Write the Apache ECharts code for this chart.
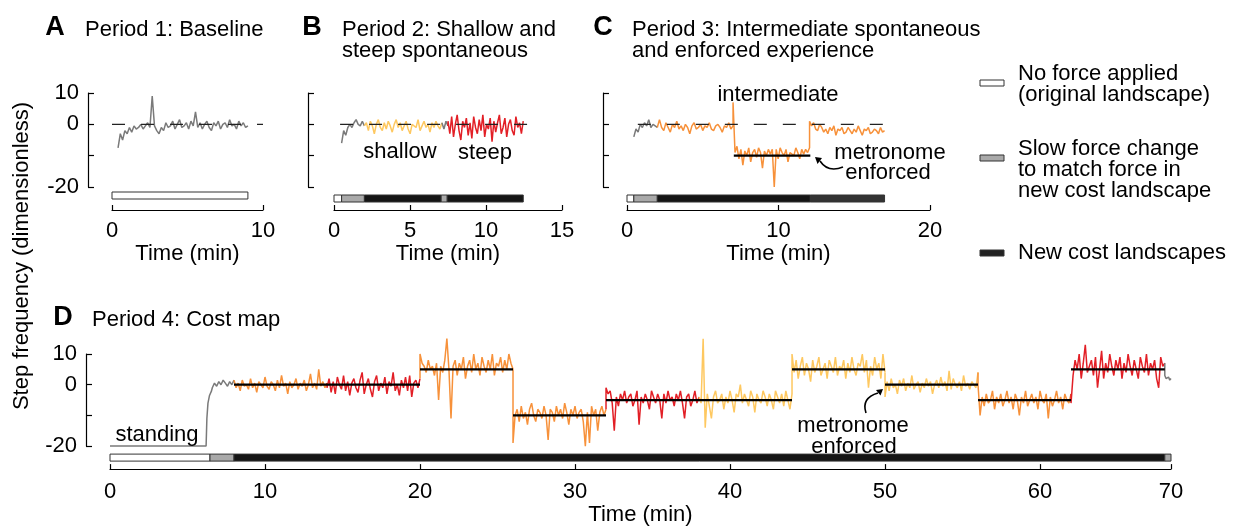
<!DOCTYPE html>
<html>
<head>
<meta charset="utf-8">
<script src="https://cdn.jsdelivr.net/npm/echarts@6/dist/echarts.min.js"></script>
<style>
html,body{margin:0;padding:0;background:#fff}
#chart{width:1233px;height:527px}
</style>
</head>
<body>
<div id="chart"></div>
<script>
// ---- data (step frequency, dimensionless; time in min) ----
// Period 1
var traceA = [-7.5,-3,-5,-2,-3,-1,-2.5,-0.5,-1.5,-1,0,-1.5,-0.5,0.5,-1,9,-0.5,-2,-3,-1,-2,0.5,-1,-0.5,1,-1.5,0,1.5,-1,-0.5,0.5,-1.5,1,-0.5,4,-1,0.5,-1.5,0,1,-1,-2,0.5,-0.5,1,-1.5,0,0.5,-1,1.5,-0.5,0,-1.5,1,-0.5,0.5,-1,-0.5];
// Period 2
var grayB1 = [-6,-2,-3.5,-1,0,-1,0.5,1.5,0,-0.5,1,-0.5];
var shallowB = [-1,0.5,-2,1,-0.5,-3,0,1.5,-1,-2,0.5,-1.5,1,-0.5,-2.5,0,1.5,-1,0.5,-2,-0.5,1,-1.5,-3,0,0.5,-1,1.5,-2,-0.5,1,-1,0,-2.5,0.5,-1,1,-0.5,-1.5,0.5];
var grayB2 = [0,-1.5,1,-0.5];
var steepB = [1,-3,2.5,-4,0,3,-2,-5,1,-1,2,-3.5,0.5,-4.5,2.5,-1,-3,1.5,-2,3,-4,0,-1.5,2,-5.5,1,-2.5,0.5,3,-3,-1,2,-4,0,1.5,-2,-3.5,2.5,-1,0.5,-3,1];
// Period 3
var grayC = [-4,-1.5,-2.5,0,-1,0.5,-0.5,1.5,-1,0,-0.5,-1];
var interC1 = [-0.5,1.5,-1,-2,0.5,-1,-2.5,0,-1,1,-1.5,-0.5,-2,0,-1,-3,-0.5,0.5,-1.5,-1,0,-2,-0.5,-1,0.5,-1.5,-2,-0.5,0,-1,-2.5,-0.5,-1,0.5,-1.5,-0.5];
var interC2 = [7,-9,-7,-11,-8,-13,-8.5,-10,-7.5,-12,-9,-8,-10.5,-7.5,-9,-14,-8.5,-10,-8,-9.5,-8,-20,-8,-11,-7.5,-9,-10,-8,-12,-9,-8.5,-10,-7.5,-9,-11,-8,-9.5,-8,-9,-7.5];
var interC3 = [1,-0.5,0.5,-1.5,-2,0,-1,-2.5,-1.5,-3,-1,-2,-0.5,-3.5,-1.5,-2,-1,-3,-2.5,-1,-2,-3,-1.5,-2.5,-0.5,-2,-3.5,-1.5,-2,-1,-3,-2.5,-1.5,-2,-3,-1,-2.5,-2];
var metroC = [[7.05, 12.1, -10]];
// Period 4
var standingD = [[0,-20],[6.2,-20],[6.25,-11],[6.32,-6],[6.42,-3.5],[6.55,-2]];
var grayD1 = [-1,0.5,-0.5,1,0,1.5,0.5,-0.5,1,0,1.5];
var orangeD1 = [1,-1,0.5,-2,1.5,-0.5,0,-1.5,2,-1,0.5,-2.5,1,0,-1,2.5,-0.5,-1.5,1,0,-2,1.5,-1,3,-0.5,0.5,-3,1,-1,0,2,-1.5,0.5,-0.5,1.5,-2,0,3.5,-1,0.5,-1.5,5,-0.5,1,-1,0.5];
var redD1 = [-1,2,-2.5,1,-3,2.5,0,-1.5,3,-2,1,-3.5,0.5,2,-1,-2.5,1.5,4,-3,0,2,-1.5,-4,1,3,-2,0.5,-1,2.5,-3,1,-0.5,4,-2,0,-3.5,1.5,-1,2.5,-2,3,-4,0.5,1.5,-1,2];
var orangeD2 = [10,7,6,4,8,5,6,3,7,-5,6,4,8,15,5,-11,6,8,3,7,5,9,2,6,8,4,10,5,7,3,9,6,4,8,5,10,3,7,6,9,4,8,5,10,7,5];
var orangeD3 = [-19,-10,-8,-12,-7,-11,-9,-13,-8,-6,-10,-12,-8,-9,-11,-7,-10,-18,-8,-9,-12,-7,-10,-8,-11,-6,-9,-13,-8,-10,-7,-11,-9,-8,-12,-20,-9,-19,-7,-10,-8,-15,-9,-7,-10,-8];
var redD2 = [-1,-3,-2,-6,-15,-4,-7,-3,-5,-2,-6,-4,-3,-7,-5,-2,-13,-4,-6,-3,-5,-8,-2,-4,-6,-3,-5,-11,-3,-6,-2,-5,-4,-7,-3,-5,-2,-6,-11,-4,-3,-7,-5,-2,-6,-4];
var yellowD1 = [-4,-6,15,-14,-3,-7,-11,-4,-2,-6,-5,-3,-8,-4,-6,-2,-5,-9,-3,-4,0,-6,-3,-5,-7,-2,-4,-9,-3,-5,-6,-2,-4,-7,-3,-5,-8,-2,-4,-6,-3,-7,-2,-5,-8,-3];
var yellowD2 = [10,4,8,2,6,9,3,7,5,1,8,4,6,9,3,5,7,2,8,6,4,9,3,6,5,8,2,7,4,9,5,3,7,6,10,4,8,-1,6,3,9,5,7,2,10,4];
var yellowD3 = [-4,1,-2,2,-1,0,-3,1.5,-0.5,2,-2,0.5,-1,3,-1.5,0,1,-2.5,0.5,-1,2,-0.5,1,-3,0,1.5,-1,2.5,-0.5,1,-2,4.5,-1.5,2,0,-1,1,-2,3,-0.5,0.5,-1.5,1,0,-1,4];
var orangeD4 = [0,-10,-4,-7,-3,-6,-5,-2,-8,-4,-6,-3,-7,-5,-2,-6,-4,-8,-3,-5,-10,-4,-6,-2,-7,-5,-3,-6,-4,-8,-2,-5,-6,-3,-11,-4,-7,-5,-2,-6,-4,-8,-3,-5,-6,-3];
var redD3 = [-6,3,8,5,10,2,7,13,4,6,8,3,9,-1,5,11,2,7,4,10,6,3,8,5,9,2,7,4,10,6,3,8,5,2,9,6,4,10,3,7,5,8,2,-1,9,6,7];
var grayD2 = [3,2,1.5,2.5,1.5,2];
var levelD = [[8,20,0],[20,26,5],[26,32,-10],[32,44,-5],[44,50,5],[50,56,0],[56,62,-5],[62,68.05,5]];
// force condition bars: [start, end, kind] kind 0=no force, 1=slow change, 2=new landscape, 3=new landscape (later)
var barsA = [[0,9.0,0]];
var barsB = [[0,0.5,0],[0.5,2,1],[2,7.05,2],[7.05,7.45,1],[7.45,12.45,2]];
var barsC = [[0,0.45,0],[0.45,2,1],[2,12.1,2],[12.1,17,3]];
var barsD = [[0,6.45,0],[6.45,8,1],[8,68.05,2],[68.05,68.45,1]];
var zeroA = [0,10], zeroB = [0.4,13.4], zeroC = [-1.2,17.4];

// ---- styling ----
var FONT = "'Liberation Sans', Arial, Helvetica, sans-serif";
var FS = 22;
var GRAY='#7a7a7a', ORANGE='#f7913a', YELLOW='#fec860', RED='#e21f26';
var BAR_FILL = ['#ffffff','#a9a9a9','#151515','#333333'];

function seg(t0, t1, vals){
  return vals.map(function(v,i){ return [t0 + (t1-t0)*i/(vals.length-1), v]; });
}

function traces(ax, parts){
  var out = [], prev = null;
  parts.forEach(function(p){
    var d = prev ? [prev].concat(p.data) : p.data.slice();
    out.push({type:'line', xAxisIndex:ax, yAxisIndex:ax, data:d, symbol:'none', clip:false, silent:true, z:2,
      lineStyle:{color:p.color, width:1.5}});
    prev = p.data[p.data.length-1];
  });
  return out;
}

function zeroLine(ax, r){
  return {type:'line', xAxisIndex:ax, yAxisIndex:ax, data:[[r[0],0],[r[1],0]], symbol:'none', clip:false, silent:true, z:4,
    lineStyle:{color:'#222', width:1.3, type:[13,16]}};
}

function levelLines(ax, lv){
  return {type:'custom', xAxisIndex:ax, yAxisIndex:ax, data:lv, clip:false, silent:true, z:5, encode:{x:[0,1], y:2},
    renderItem:function(params, api){
      var a = api.coord([api.value(0), api.value(2)]);
      var b = api.coord([api.value(1), api.value(2)]);
      return {type:'line', shape:{x1:a[0], y1:a[1], x2:b[0], y2:b[1]}, style:{stroke:'#000', lineWidth:2.2}};
    }};
}

function bars(ax, segs, drop){
  return {type:'custom', xAxisIndex:ax, yAxisIndex:ax, data:segs, clip:false, silent:true, z:3, encode:{x:[0,1]},
    renderItem:function(params, api){
      var a = api.coord([api.value(0), -20]);
      var b = api.coord([api.value(1), -20]);
      return {type:'rect', shape:{x:a[0], y:a[1]+drop, width:b[0]-a[0], height:7},
        style:{fill:BAR_FILL[api.value(2)], stroke:'#333', lineWidth:1}};
    }};
}

function xAx(grid, max, interval, gap, margin, fmt){
  return {gridIndex:grid, type:'value', min:0, max:max, interval:interval, offset:23,
    axisLine:{onZero:false, lineStyle:{color:'#000', width:1.2}},
    axisTick:{inside:true, length:5, lineStyle:{color:'#000', width:1.2}},
    axisLabel:{margin:margin, color:'#000', fontSize:FS, fontFamily:FONT, formatter:fmt},
    splitLine:{show:false},
    name:'Time (min)', nameLocation:'middle', nameGap:gap,
    nameTextStyle:{color:'#000', fontSize:FS, fontFamily:FONT}};
}

function yAx(grid, showLabels, offset){
  return {gridIndex:grid, type:'value', min:-20, max:10, interval:10, offset:offset,
    axisLine:{show:true, onZero:false, lineStyle:{color:'#000', width:1.2}},
    axisTick:{show:true, inside:true, length:6, lineStyle:{color:'#000', width:1.2}},
    axisLabel:{show:showLabels, margin:9, color:'#000', fontSize:FS, fontFamily:FONT,
      formatter:function(v){ return v === -10 ? '' : String(v); }},
    splitLine:{show:false}};
}

var series = [];
// A
series = series.concat(traces(0, [{data:seg(0.4, 9.0, traceA), color:GRAY}]));
series.push(zeroLine(0, zeroA), bars(0, barsA, 5));
// B
series = series.concat(traces(1, [
  {data:seg(0.5, 2.0, grayB1), color:GRAY},
  {data:seg(2.0, 7.1, shallowB), color:YELLOW},
  {data:seg(7.1, 7.5, grayB2), color:GRAY},
  {data:seg(7.5, 12.45, steepB), color:RED}
]));
series.push(zeroLine(1, zeroB), bars(1, barsB, 8));
// C
series = series.concat(traces(2, [
  {data:seg(0.45, 2.0, grayC), color:GRAY},
  {data:seg(2.0, 7.0, interC1).concat(seg(7.0, 12.05, interC2), seg(12.05, 17.0, interC3)), color:ORANGE}
]));
series.push(zeroLine(2, zeroC), levelLines(2, metroC), bars(2, barsC, 8));
// D
series = series.concat(traces(3, [
  {data:standingD.concat(seg(6.6, 8.0, grayD1)), color:GRAY},
  {data:seg(8, 14, orangeD1), color:ORANGE},
  {data:seg(14, 20, redD1), color:RED},
  {data:seg(20, 26, orangeD2), color:ORANGE},
  {data:seg(26, 32, orangeD3), color:ORANGE},
  {data:seg(32, 38, redD2), color:RED},
  {data:seg(38, 44, yellowD1), color:YELLOW},
  {data:seg(44, 50, yellowD2), color:YELLOW},
  {data:seg(50, 56, yellowD3), color:YELLOW},
  {data:seg(56, 62, orangeD4), color:ORANGE},
  {data:seg(62, 68.05, redD3), color:RED},
  {data:seg(68.05, 68.45, grayD2), color:GRAY}
]));
series.push(levelLines(3, levelD), bars(3, barsD, 8));

function txt(t, x, y, opt){
  opt = opt || {};
  return {type:'text', x:x, y:y, rotation:opt.rot || 0, silent:true, z:10,
    style:{text:t, fill:'#000', fontFamily:FONT, fontSize:opt.size || FS, fontWeight:opt.bold ? 'bold' : 'normal',
      align:opt.align || 'left', verticalAlign:'middle'}};
}
function legendBox(y, fill){
  return {type:'rect', silent:true, shape:{x:980, y:y, width:24, height:6}, style:{fill:fill, stroke:'#333', lineWidth:1}};
}

var graphic = [
  txt('A', 55, 28, {bold:true, size:27, align:'center'}),
  txt('Period 1: Baseline', 85, 30),
  txt('B', 312, 28, {bold:true, size:27, align:'center'}),
  txt('Period 2: Shallow and', 342, 30),
  txt('steep spontaneous', 342, 51),
  txt('C', 603, 28, {bold:true, size:27, align:'center'}),
  txt('Period 3: Intermediate spontaneous', 632, 30),
  txt('and enforced experience', 632, 51),
  txt('D', 63, 318, {bold:true, size:27, align:'center'}),
  txt('Period 4: Cost map', 92, 320),
  txt('Step frequency (dimensionless)', 22, 256, {rot:Math.PI/2, align:'center'}),
  txt('shallow', 400, 152, {align:'center'}),
  txt('steep', 485, 153, {align:'center'}),
  txt('intermediate', 778, 95, {align:'center'}),
  txt('metronome', 890, 153, {align:'center'}),
  txt('enforced', 888, 173, {align:'center'}),
  txt('standing', 157, 435, {align:'center'}),
  txt('metronome', 853, 426, {align:'center'}),
  txt('enforced', 854, 447, {align:'center'}),
  // legend
  legendBox(80, BAR_FILL[0]),
  legendBox(155, BAR_FILL[1]),
  legendBox(250, '#222'),
  txt('No force applied', 1018, 74),
  txt('(original landscape)', 1018, 95),
  txt('Slow force change', 1018, 149),
  txt('to match force in', 1018, 170),
  txt('new cost landscape', 1018, 191),
  txt('New cost landscapes', 1018, 253),
  // arrows
  {type:'bezierCurve', silent:true, shape:{x1:843, y1:167, cpx1:828, cpy1:173, x2:820, y2:161}, style:{stroke:'#000', lineWidth:1.6, fill:null}},
  {type:'polygon', silent:true, shape:{points:[[815,157],[822,158],[817.5,164]]}, style:{fill:'#000'}},
  {type:'bezierCurve', silent:true, shape:{x1:866, y1:413, cpx1:861, cpy1:398, x2:878, y2:393}, style:{stroke:'#000', lineWidth:1.6, fill:null}},
  {type:'polygon', silent:true, shape:{points:[[883,389],[880.5,395.5],[876,390]]}, style:{fill:'#000'}}
];

var chart = echarts.init(document.getElementById('chart'));
chart.setOption({
  animation:false,
  backgroundColor:'#fff',
  grid:[
    {left:112, top:93, width:151, height:94},
    {left:334, top:93, width:228, height:94},
    {left:627, top:93, width:303, height:94},
    {left:110, top:354, width:1061, height:95}
  ],
  xAxis:[
    xAx(0, 10, 10, 31, 10),
    xAx(1, 15, 5, 31, 10),
    xAx(2, 20, 10, 31, 10),
    xAx(3, 68.45, 10, 33, 12, function(v){ return v > 65 ? '70' : String(v); })
  ],
  yAxis:[
    yAx(0, true, 24),
    yAx(1, false, 26),
    yAx(2, false, 24),
    yAx(3, true, 24)
  ],
  series:series,
  graphic:graphic
});
</script>
</body>
</html>
